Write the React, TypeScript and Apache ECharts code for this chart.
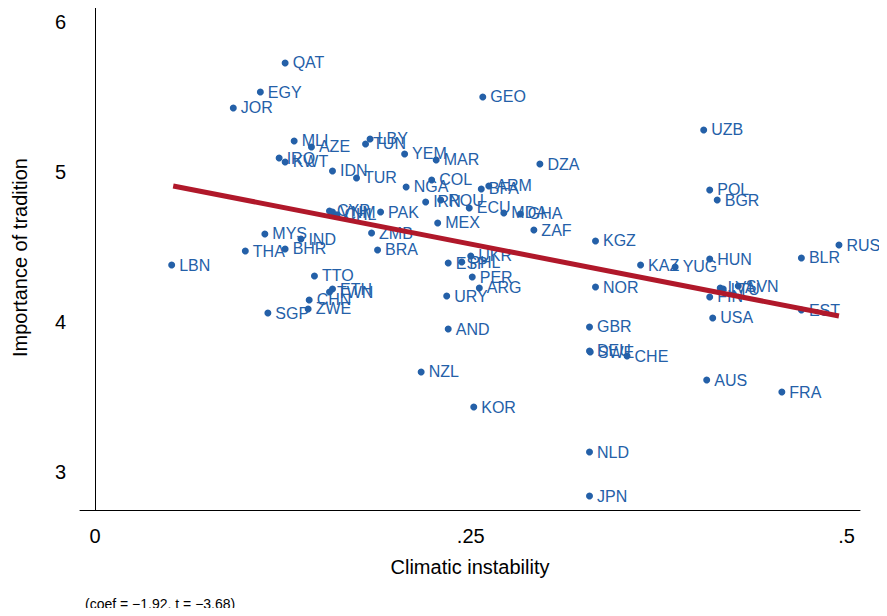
import React, { useEffect, useRef } from 'react';
import * as echarts from 'echarts';

const countries = ['QAT','EGY','JOR','GEO','UZB','MLI','AZE','LBY','TUN','IRQ','KWT','YEM','MAR','DZA','IDN','TUR','COL','NGA','ARM','BFA','POL','BGR','IRN','ROU','ECU','MDA','GHA','CYP','VNM','CHL','PAK','MEX','ZAF','KGZ','MYS','IND','ZMB','THA','BHR','BRA','RUS','BLR','HUN','LBN','ESP','PHL','UKR','KAZ','YUG','PER','TTO','ETH','TWN','ARG','NOR','LVA','SVN','LTU','FIN','URY','CHN','ZWE','SGP','EST','USA','AND','GBR','DEU','SWE','CHE','AUS','FRA','NZL','KOR','NLD','JPN'];
const instability = [0.1265,0.110,0.092,0.258,0.405,0.1325,0.144,0.183,0.180,0.1225,0.1265,0.206,0.227,0.296,0.158,0.174,0.224,0.207,0.262,0.257,0.409,0.414,0.220,0.230,0.249,0.272,0.283,0.156,0.158,0.161,0.190,0.228,0.292,0.333,0.113,0.137,0.184,0.100,0.1265,0.188,0.495,0.470,0.409,0.051,0.235,0.244,0.250,0.363,0.386,0.251,0.146,0.158,0.156,0.2557,0.333,0.416,0.428,0.418,0.409,0.234,0.1425,0.1418,0.115,0.470,0.411,0.235,0.329,0.329,0.3295,0.354,0.407,0.457,0.217,0.252,0.329,0.329];
const tradition = [5.727,5.533,5.427,5.50,5.28,5.207,5.167,5.22,5.187,5.093,5.067,5.12,5.08,5.053,5.007,4.96,4.947,4.90,4.907,4.887,4.88,4.813,4.80,4.813,4.76,4.727,4.72,4.74,4.733,4.715,4.733,4.66,4.613,4.54,4.587,4.553,4.593,4.473,4.487,4.48,4.513,4.427,4.42,4.38,4.393,4.40,4.44,4.38,4.367,4.30,4.307,4.22,4.20,4.227,4.233,4.227,4.24,4.22,4.167,4.173,4.147,4.087,4.06,4.08,4.027,3.953,3.967,3.807,3.80,3.773,3.613,3.533,3.667,3.433,3.133,2.84];
const fitX = [0.052, 0.495];
const fitY = [4.907, 4.04];
const xTicks = [0, 0.25, 0.5];
const xTickLabels = ['0', '.25', '.5'];
const yTicks = [3, 4, 5, 6];
const note = '(coef = \u22121.92, t = \u22123.68)';

const FONT = 'Liberation Sans, Arial, sans-serif';
const BLUE = '#2460a8';

const App: React.FC = () => {
  const ref = useRef<HTMLDivElement>(null);
  useEffect(() => {
    const chart = echarts.init(ref.current!, null, { renderer: 'svg' });
    chart.setOption({
      animation: false,
      textStyle: { fontFamily: FONT },
      grid: { left: 80, top: 5, right: 27, bottom: 106, outerBoundsMode: 'none', containLabel: false },
      xAxis: {
        type: 'value', min: -0.01, max: 0.509,
        name: 'Climatic instability', nameLocation: 'middle', nameGap: 47,
        nameTextStyle: { fontSize: 20, color: '#000', fontFamily: FONT },
        axisLine: { show: true, lineStyle: { color: '#000', width: 1 } },
        axisTick: { show: false },
        splitLine: { show: false },
        axisLabel: {
          customValues: xTicks, fontSize: 20, color: '#000', margin: 16,
          formatter: (v: number) => xTickLabels[xTicks.indexOf(v)] ?? '',
        },
      },
      yAxis: {
        type: 'value', min: 2.747, max: 6.113,
        name: 'Importance of tradition', nameLocation: 'middle', nameGap: 50,
        nameTextStyle: { fontSize: 20, color: '#000', fontFamily: FONT },
        axisLine: { show: true, lineStyle: { color: '#000', width: 1 } },
        axisTick: { show: false },
        splitLine: { show: false },
        axisLabel: { customValues: yTicks, fontSize: 20, color: '#000', margin: 14 },
      },
      series: [
        {
          type: 'scatter', symbolSize: 7, itemStyle: { color: BLUE, opacity: 1 },
          data: countries.map((c, i) => ({ value: [instability[i], tradition[i]], name: c })),
          label: {
            show: true, position: 'right', distance: 4, color: BLUE, fontSize: 16,
            fontFamily: FONT, formatter: (p: any) => p.name,
          },
          z: 3,
        },
        {
          type: 'line', symbol: 'none', z: 4,
          lineStyle: { color: '#b0182a', width: 5 },
          data: fitX.map((x, i) => [x, fitY[i]]),
        },
      ],
      graphic: [
        { type: 'text', left: 85, top: 597, style: { text: note, fontSize: 14, fill: '#000', fontFamily: FONT } },
      ],
    });
    return () => chart.dispose();
  }, []);
  return <div ref={ref} style={{ width: 887, height: 616, margin: -8 }} />;
};

export default App;
